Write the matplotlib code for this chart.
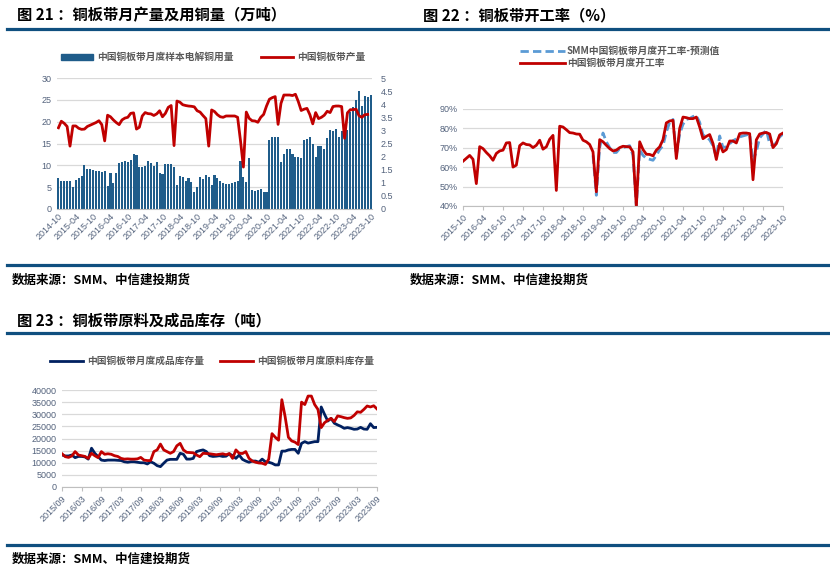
import numpy as np
import pandas as pd
import matplotlib
matplotlib.use("Agg")
import matplotlib.pyplot as plt
from matplotlib.lines import Line2D
from matplotlib.patches import Rectangle

plt.rcParams['font.family'] = ['Noto Sans CJK SC', 'DejaVu Sans']

# ---- data: fig 21 (2014-10 .. 2023-10, monthly) ----
months21 = pd.date_range('2014-10-01', '2023-10-01', freq='MS')
copper_use = [7.2, 6.5, 6.5, 6.4, 6.3, 5.1, 6.7, 7.1, 7.5, 10.0,
              9.2, 9.1, 9.0, 8.8, 8.6, 8.4, 8.8, 5.2,
              8.3, 6.0, 8.3, 10.5, 10.8, 10.9, 10.8, 11.3, 12.7, 12.4,
              9.7, 9.6, 9.9, 11.1, 10.6, 9.8, 10.7, 8.2, 8.1, 10.2, 10.4, 10.3, 9.6, 5.6,
              7.6, 7.3, 6.5, 7.0, 6.2, 4.0, 5.0, 7.4, 6.8, 7.7, 7.3,
              5.5, 7.8, 7.1, 6.5, 6.0, 5.8, 5.8, 5.9, 6.2, 6.3,
              10.9, 7.4, 6.1, 11.7, 4.4, 4.1, 4.3, 4.5, 3.8, 3.8,
              15.8, 16.4, 16.6, 16.6, 10.8, 12.5, 13.8, 13.8, 12.6, 11.8,
              12.0, 11.6, 15.9, 16.0, 16.6, 14.8, 12.0, 14.5, 14.4, 13.8,
              16.2, 18.0, 17.9, 18.3, 16.5, 17.9, 16.6, 18.2, 22.1, 23.4,
              24.9, 27.0, 23.5, 25.9, 25.7, 26.1]
output = [3.10, 3.35, 3.27, 3.15, 2.40, 3.17, 3.17, 3.08, 3.04, 3.05,
          3.15, 3.20, 3.25, 3.30, 3.37, 3.22, 2.60, 3.58, 3.52, 3.40,
          3.30, 3.22, 3.40, 3.47, 3.50, 3.65, 3.67, 3.05, 3.12, 3.55,
          3.68, 3.64, 3.63, 3.57, 3.63, 3.75, 3.52, 3.65, 3.88, 3.95,
          2.42, 4.12, 4.08, 3.98, 3.95, 3.93, 3.92, 3.90, 3.75, 3.70,
          3.57, 3.45, 2.40, 3.78, 3.72, 3.60, 3.52, 3.50, 3.55, 3.55,
          3.55, 3.55, 3.50, 2.60, 1.60, 3.70, 3.46, 3.37, 3.36, 3.31,
          3.50, 3.61, 3.93, 4.19, 4.25, 4.29, 3.23, 4.03, 4.35, 4.35,
          4.35, 4.33, 4.38, 4.10, 3.76, 3.81, 3.84, 3.60, 3.25, 3.68,
          3.45, 3.50, 3.58, 3.73, 3.68, 3.91, 3.93, 3.93, 3.91, 2.70,
          3.67, 3.79, 3.79, 3.81, 3.56, 3.50, 3.60, 3.61, None]

# ---- data: fig 22 (2015-10 .. 2023-10) ----
months22 = pd.date_range('2015-10-01', '2023-10-01', freq='MS')
rate = [63, 64.5, 66, 64, 51.5, 70.5, 69.5, 67.5, 65.8, 63.5,
        67, 68.3, 68.7, 72.4, 72.6, 60, 61, 71, 72.4, 71.6,
        71.4, 70, 71.2, 73.8, 69.2, 70.4, 74.3, 76.3, 48, 81,
        80.6, 79.2, 77.7, 77.5, 77, 76.9, 73.8, 73, 71.6, 67.8,
        47.3, 74.1, 73, 71.2, 69.5, 68.3, 68.7, 70, 70.7, 70.5,
        70.4, 67.8, 39.7, 73, 69, 66.6, 66.5, 65.8, 68.7, 70.4,
        74.1, 82.7, 83.7, 84, 64.4, 79.8, 85.7, 85.4, 84.9, 84.9,
        85.7, 80.6, 74.6, 75.8, 76.7, 72.1, 63.9, 72.1, 67.8, 69,
        73.4, 73.4, 72.4, 77.2, 77.5, 77.5, 77.2, 53.5, 74, 77,
        77.5, 77.8, 77, 70, 72, 76.5, 77.5]
# SMM forecast starts 2019-01
forecast_start = '2019-01'
forecast = [66, 45.5, 70, 77.5, 73, 70, 67.5, 67.5, 69.5, 70,
            70.5, 71, 66, 40, 69, 66, 64.5, 64, 63.5, 66,
            69, 71, 78, 83, 84.5, 66, 77, 82, 84.5, 85,
            86, 86.5, 83, 76.5, 75.5, 74, 71, 65, 76, 70,
            70.5, 72, 73.5, 74.5, 75.5, 76, 76.5, 77, 63, 68,
            75, 77, 79, 72, 71, 72.5, 75.5, 77]

# ---- data: fig 23 (2015-09 .. 2023-09) ----
months23 = pd.date_range('2015-09-01', '2023-09-01', freq='MS')
finished = [13200, 12800, 12800, 13200, 12100, 12600, 12600, 12400, 11500, 16000,
            13900, 12500, 11100, 10900, 11100, 11100, 11100, 11000, 10900, 10400,
            10200, 10400, 10400, 10200, 10000, 10000, 9500, 10400, 9800, 8800,
            8400, 9800, 11100, 11400, 11400, 11400, 13900, 13500, 11500, 11500,
            11800, 14600, 15000, 15300, 14600, 12900, 12600, 12700, 12900, 12600,
            12700, 13700, 12900, 11800, 13200, 11400, 10700, 10200, 10700, 10700,
            10200, 11500, 10400, 10200, 9800, 9100, 9100, 14800, 14800, 15300,
            15500, 15500, 13900, 18000, 18700, 18100, 18400, 18700, 18700, 33000,
            30000, 27200, 28300, 26300, 25600, 25000, 24200, 24500, 24200, 23800,
            23900, 24600, 23900, 23800, 26100, 24500, 24600]
raw = [13700, 12500, 12200, 12800, 14600, 13200, 12900, 12600, 11800, 13900,
       12900, 12100, 14600, 13500, 13700, 13500, 12900, 12600, 11800, 11500,
       11600, 11500, 11500, 11600, 12200, 11100, 10900, 10900, 14600, 15300,
       17700, 15300, 14600, 13900, 14600, 17000, 18000, 15300, 14300, 14200,
       14100, 13200, 12500, 13900, 13800, 13700, 13500, 13300, 13500, 13700,
       13300, 13800, 11800, 15300, 13900, 13800, 14600, 11800, 10700, 10200,
       9900, 9800, 9300, 11500, 22000, 20500, 19300, 36000, 29000, 20500,
       19000, 18500, 17500, 35000, 34000, 37500, 37500, 34000, 32000, 24500,
       26500, 27500, 28300, 27000, 29300, 29000, 28600, 28300, 28500, 29500,
       31000, 30800, 32000, 33400, 33000, 33500, 32200]

source = '数据来源：SMM、中信建投期货'

RED = '#c00000'
NAVY = '#002060'
BAR = '#1f5c8a'
LBLUE = '#5b9bd5'
RULE = '#0f4f7f'
GRID = '#d9d9d9'
TICK = '#53627c'
LEG = '#595959'

W, H = 830, 574
fig = plt.figure(figsize=(W / 100, H / 100), dpi=100)


def box(l, t, r, b):
    return [l / W, 1 - b / H, (r - l) / W, (b - t) / H]


def rule(y, x0=7, x1=830):
    fig.add_artist(Line2D([x0 / W, x1 / W], [1 - y / H] * 2, color=RULE, lw=2.3))


def ftext(x, y, s, **kw):
    fig.text(x / W, 1 - y / H, s, va='center', **kw)


def leg_line(x0, x1, y, **kw):
    fig.add_artist(Line2D([x0 / W, x1 / W], [1 - y / H] * 2, **kw))


def style_axis(ax, ticks, labels, tickmarks=True):
    for s in ['top', 'right', 'left']:
        ax.spines[s].set_visible(False)
    ax.spines['bottom'].set_color('#bfbfbf')
    ax.grid(axis='y', color=GRID, lw=0.9)
    ax.set_axisbelow(True)
    ax.set_xticks(ticks)
    ax.set_xticklabels(labels, rotation=45, ha='right', rotation_mode='anchor')
    ax.tick_params(axis='y', length=0, labelsize=6.5, labelcolor=TICK,
                   labelfontfamily='Liberation Sans', pad=4)
    ax.tick_params(axis='x', length=3 if tickmarks else 0, color='#bfbfbf',
                   labelsize=6.5, labelcolor=TICK,
                   labelfontfamily='Liberation Sans', pad=2)


# ---------------- headers, rules, sources ----------------
ftext(17, 15, '图 21 ：铜板带月产量及用铜量（万吨）', fontsize=11, fontweight='bold')
ftext(423, 15, '图 22 ：铜板带开工率（%）', fontsize=11, fontweight='bold')
ftext(17, 320, '图 23 ：铜板带原料及成品库存（吨）', fontsize=11, fontweight='bold')
for y in (29, 265, 333, 545):
    rule(y)
ftext(12, 280, source, fontsize=9, fontweight='bold')
ftext(410, 280, source, fontsize=9, fontweight='bold')
ftext(12, 559, source, fontsize=9, fontweight='bold')

# ---------------- fig 21 ----------------
x21 = np.arange(len(months21))
ax1 = fig.add_axes(box(57, 78, 372, 209))
ax1.bar(x21, copper_use, width=0.72, color=BAR)
ax1.set_xlim(-0.5, len(months21) - 0.5)
ax1.set_ylim(0, 30)
ax1.set_yticks(range(0, 31, 5))
style_axis(ax1, x21[::6], [d.strftime('%Y-%m') for d in months21[::6]], tickmarks=False)

ax1b = ax1.twinx()
ax1b.plot(x21, np.array(output, dtype=float), color=RED, lw=2)
ax1b.set_ylim(0, 5)
ax1b.set_yticks(np.arange(0, 5.01, 0.5))
ax1b.set_yticklabels(['0', '0.5', '1', '1.5', '2', '2.5', '3', '3.5', '4', '4.5', '5'])
for s in ax1b.spines.values():
    s.set_visible(False)
ax1b.tick_params(axis='y', length=0, labelsize=6.5, labelcolor=TICK,
                 labelfontfamily='Liberation Sans', pad=6)

fig.add_artist(Rectangle((61 / W, 1 - 60 / H), 32 / W, 6 / H, color=BAR))
ftext(97, 57, '中国铜板带月度样本电解铜用量', fontsize=7, fontweight='bold', color=LEG)
leg_line(261, 293, 57, color=RED, lw=2)
ftext(297, 57, '中国铜板带产量', fontsize=7, fontweight='bold', color=LEG)

# ---------------- fig 22 ----------------
x22 = np.arange(len(months22))
fc = np.full(len(months22), np.nan)
i0 = list(months22.strftime('%Y-%m')).index(forecast_start)
fc[i0:i0 + len(forecast)] = forecast
ax2 = fig.add_axes(box(463, 108.7, 783, 206))
ax2.plot(x22, fc, color=LBLUE, lw=2, ls=(0, (3, 1.5)))
ax2.plot(x22, rate, color=RED, lw=2)
ax2.set_xlim(0, len(months22) - 1)
ax2.set_ylim(40, 90)
ax2.set_yticks(range(40, 91, 10))
ax2.set_yticklabels([f'{v}%' for v in range(40, 91, 10)])
style_axis(ax2, x22[::6], [d.strftime('%Y-%m') for d in months22[::6]])

leg_line(520, 565, 51, color=LBLUE, lw=2, ls=(0, (3, 1.5)))
ftext(567, 51, 'SMM中国铜板带月度开工率-预测值', fontsize=7, fontweight='bold', color=LEG)
leg_line(520, 565, 63, color=RED, lw=2)
ftext(567, 63, '中国铜板带月度开工率', fontsize=7, fontweight='bold', color=LEG)

# ---------------- fig 23 ----------------
x23 = np.arange(len(months23))
ax3 = fig.add_axes(box(62, 390, 377, 487))
ax3.plot(x23, finished, color=NAVY, lw=2)
ax3.plot(x23, raw, color=RED, lw=2)
ax3.set_xlim(0, len(months23) - 1)
ax3.set_ylim(0, 40000)
ax3.set_yticks(range(0, 40001, 5000))
style_axis(ax3, x23[::6], [d.strftime('%Y/%m') for d in months23[::6]])

leg_line(50, 83, 361, color=NAVY, lw=2)
ftext(87, 361, '中国铜板带月度成品库存量', fontsize=7, fontweight='bold', color=LEG)
leg_line(220, 253, 361, color=RED, lw=2)
ftext(257, 361, '中国铜板带月度原料库存量', fontsize=7, fontweight='bold', color=LEG)

fig.savefig('out.png', dpi=100)
